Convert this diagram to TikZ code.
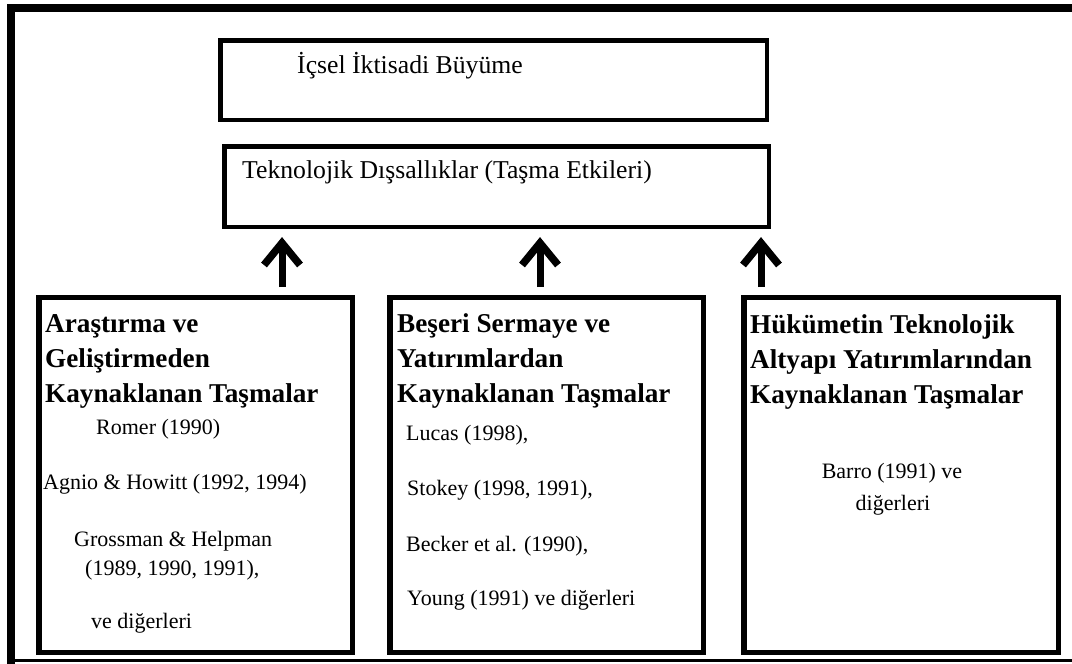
\documentclass[tikz,border=0pt]{standalone}
\usepackage{fontspec}
\setmainfont{Liberation Serif}
\begin{document}
\begin{tikzpicture}[x=1pt,y=-1pt,
  topbox/.style={draw=black,line width=4.5pt,rectangle,inner sep=0pt,minimum width=546pt,minimum height=80pt},
  srcbox/.style={draw=black,line width=5.5pt,rectangle,inner sep=0pt,minimum width=314pt,minimum height=355pt},
  toptext/.style={anchor=base west,inner sep=0pt,font=\fontsize{25.7}{30}\selectfont},
  headtext/.style={anchor=base west,inner sep=0pt,font=\fontsize{27.2}{32}\selectfont\bfseries},
  reftext/.style={anchor=base west,inner sep=0pt,font=\fontsize{22}{26}\selectfont},
  reftextc/.style={anchor=base,inner sep=0pt,font=\fontsize{22}{26}\selectfont},
  shaft/.style={line width=7pt},
  chevron/.style={line width=7.5pt,line join=miter}]
\useasboundingbox (0,0) rectangle (1072,664);
% outer frame (open on the right)
\draw[line width=8pt] (7,8) -- (1072,8);
\draw[line width=8pt] (11,4) -- (11,664);
\draw[line width=3pt] (7,660.5) -- (1072,660.5);

% top boxes
\node[topbox,minimum width=546.5pt,minimum height=79.5pt] (growth) at (493.5,80) {};
\node[toptext] (growthT) at (297,73) {İçsel İktisadi Büyüme};
\node[topbox,minimum width=544.5pt,minimum height=80.5pt] (spill) at (496.5,186.5) {};
\node[toptext] (spillT) at (242,178) {Teknolojik Dışsallıklar (Taşma Etkileri)};

% bottom boxes
\node[srcbox,minimum width=313.5pt] (rd) at (195.5,475) {};
\node[srcbox,minimum width=313.5pt] (hc) at (546.5,475) {};
\node[srcbox,minimum width=314.5pt] (gov) at (901,475) {};

% box 1 texts
\node[headtext] (rd1) at (45,332) {Araştırma ve};
\node[headtext] (rd2) at (45,367) {Geliştirmeden};
\node[headtext] (rd3) at (45,402) {Kaynaklanan Taşmalar};
\node[reftext] (rd4) at (96,434) {Romer (1990)};
\node[reftext] (rd5) at (43,489) {Agnio \& Howitt (1992, 1994)};
\node[reftext] (rd6) at (74,546) {Grossman \& Helpman};
\node[reftext] (rd7) at (85,575) {(1989, 1990, 1991),};
\node[reftext] (rd8) at (91,628) {ve diğerleri};

% box 2 texts
\node[headtext] (hc1) at (397,332) {Beşeri Sermaye ve};
\node[headtext] (hc2) at (397,367) {Yatırımlardan};
\node[headtext] (hc3) at (397,402) {Kaynaklanan Taşmalar};
\node[reftext] (hc4) at (406,440) {Lucas (1998),};
\node[reftext] (hc5) at (407,495) {Stokey (1998, 1991),};
\node[reftext] (hc6) at (406,551) {Becker et al. (1990),};
\node[reftext] (hc7) at (407,605) {Young (1991) ve diğerleri};

% box 3 texts
\node[headtext] (gov1) at (750,333) {Hükümetin Teknolojik};
\node[headtext] (gov2) at (750,368) {Altyapı Yatırımlarından};
\node[headtext] (gov3) at (750,403) {Kaynaklanan Taşmalar};
\node[reftextc] (gov4) at (892,478) {Barro (1991) ve};
\node[reftextc] (gov5) at (893,510) {diğerleri};

% arrows
\coordinate (a1s) at (282,287); \coordinate (a1e) at (282,243);
\coordinate (a2s) at (540,287); \coordinate (a2e) at (540,243);
\coordinate (a3s) at (761,287); \coordinate (a3e) at (761,243);
\foreach \a in {a1,a2,a3}{
  \draw[shaft] (\a s) -- (\a e);
  \draw[chevron] ([shift={(-18,22)}]\a e) -- (\a e) -- ([shift={(18,22)}]\a e);
}
\end{tikzpicture}
\end{document}
